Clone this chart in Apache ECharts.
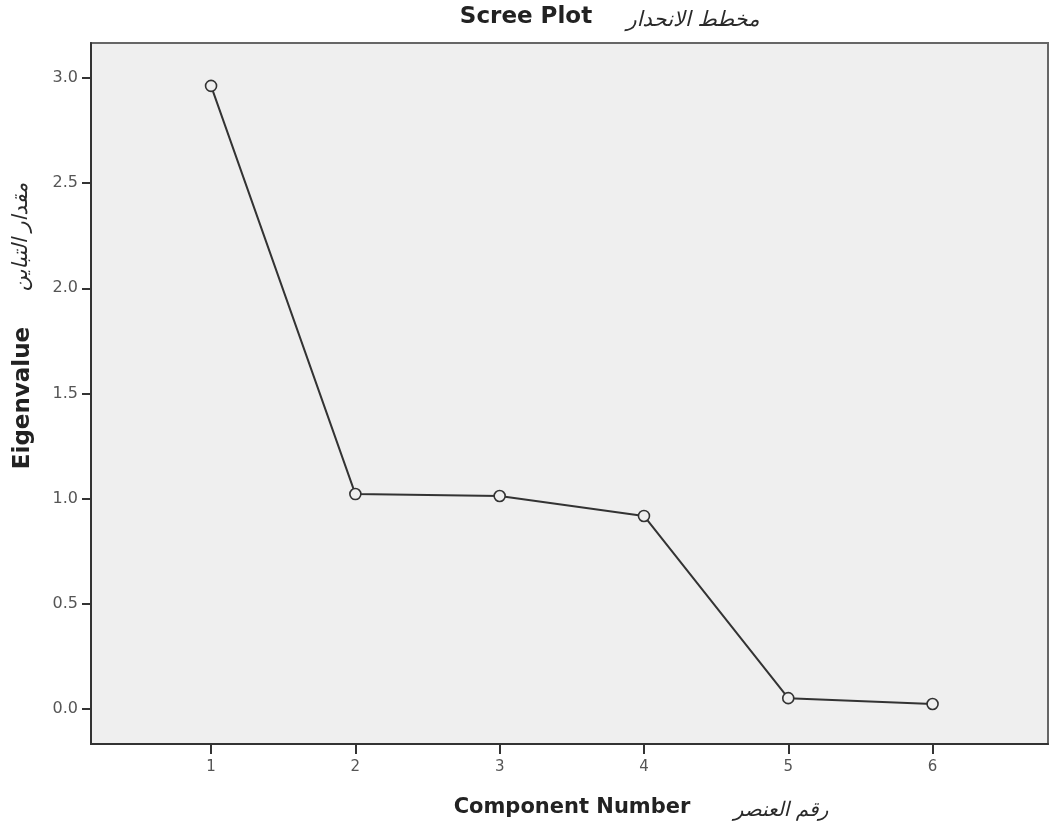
<!DOCTYPE html>
<html>
<head>
<meta charset="utf-8">
<title>Scree Plot</title>
<script src="https://cdn.jsdelivr.net/npm/echarts@6/dist/echarts.min.js"></script>
<style>
  html, body { margin: 0; padding: 0; background: #ffffff; }
  #chart { width: 1051px; height: 825px; }
</style>
</head>
<body>
<div id="chart"></div>
<script>
// Eigenvalue per extracted component
const components = [1, 2, 3, 4, 5, 6];
const eigenvalues = [2.962, 1.022, 1.013, 0.918, 0.052, 0.024];

// Tick positions on both axes
const xTicks = [1, 2, 3, 4, 5, 6];
const yTicks = [0, 0.5, 1.0, 1.5, 2.0, 2.5, 3.0];

// Axis extents (padding around the data inside the plot frame)
const xRange = [0.168, 6.8];
const yRange = [-0.166, 3.166];

const dark = '#333333';
const plotBg = '#efefef';
const labelGray = '#555555';
const latinFont = '"DejaVu Sans", "Liberation Sans", sans-serif';
const arabicFont = '"DejaVu Sans", sans-serif';

const chart = echarts.init(document.getElementById('chart'), null, { renderer: 'canvas' });

// Centered text helper for the titles and axis names
function label(text, x, y, font, fill, rotation) {
  return {
    type: 'text', x: x, y: y, rotation: rotation || 0,
    style: { text: text, font: font, fill: fill, textAlign: 'center', textVerticalAlign: 'middle' }
  };
}

chart.setOption({
  backgroundColor: '#ffffff',
  animation: false,
  grid: {
    left: 91, top: 43, right: 3, bottom: 81,
    show: true,
    backgroundColor: plotBg,
    borderColor: '#666666',
    borderWidth: 2
  },
  xAxis: {
    type: 'value',
    min: xRange[0],
    max: xRange[1],
    axisLine: { show: true, onZero: false, lineStyle: { color: dark, width: 2 } },
    axisTick: { show: true, customValues: xTicks, length: 10, lineStyle: { color: dark, width: 2 } },
    axisLabel: {
      customValues: xTicks,
      margin: 16,
      color: labelGray,
      fontFamily: latinFont,
      fontSize: 15,
      formatter: v => String(Math.round(v))
    },
    splitLine: { show: false }
  },
  yAxis: {
    type: 'value',
    min: yRange[0],
    max: yRange[1],
    axisLine: { show: true, onZero: false, lineStyle: { color: dark, width: 2 } },
    axisTick: { show: true, customValues: yTicks, length: 9, lineStyle: { color: dark, width: 2 } },
    axisLabel: {
      customValues: yTicks,
      margin: 13,
      color: labelGray,
      fontFamily: latinFont,
      fontSize: 16,
      formatter: v => v.toFixed(1)
    },
    splitLine: { show: false }
  },
  series: [{
    type: 'line',
    data: components.map((c, i) => [c, eigenvalues[i]]),
    symbol: 'circle',
    symbolSize: 11,
    showAllSymbol: true,
    lineStyle: { color: dark, width: 2 },
    itemStyle: { color: plotBg, borderColor: dark, borderWidth: 1.6 },
    emphasis: { disabled: true }
  }],
  graphic: [
    label('Scree Plot', 526, 17, 'bold 23px ' + latinFont, '#222222'),
    label('مخطط الانحدار', 693, 21, 'italic 21px ' + arabicFont, '#2a2a2a'),
    label('Component Number', 572, 808, 'bold 21px ' + latinFont, '#222222'),
    label('رقم العنصر', 781, 811, 'italic 20px ' + arabicFont, '#2a2a2a'),
    label('Eigenvalue', 23, 398, 'bold 23px ' + latinFont, '#222222', Math.PI / 2),
    label('مقدار التباين', 22, 237, 'italic 21px ' + arabicFont, '#2a2a2a', Math.PI / 2)
  ]
});
</script>
</body>
</html>
